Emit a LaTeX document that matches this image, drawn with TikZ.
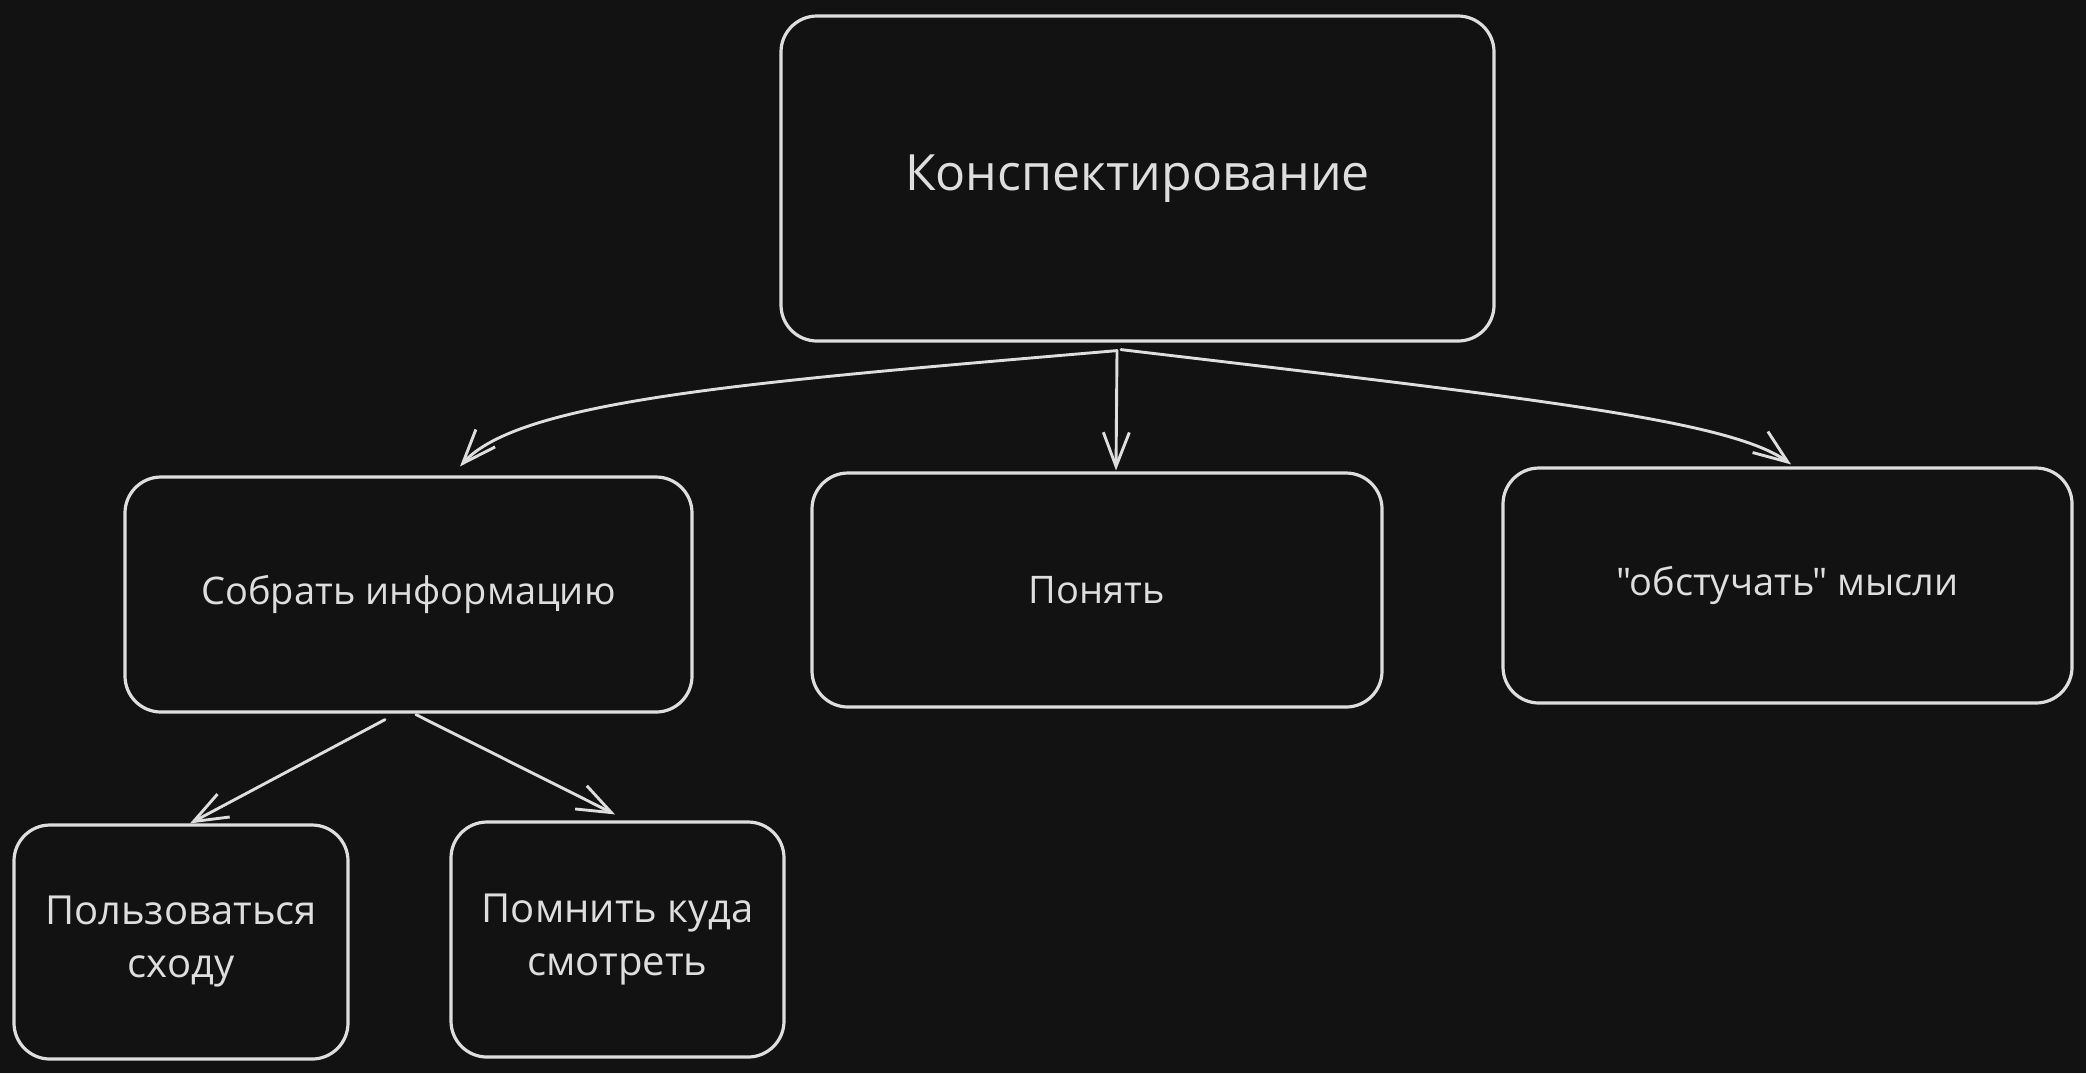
\documentclass[tikz,border=0pt]{standalone}
\usepackage{fontspec}
\setmainfont{Open Sans}[Ligatures=TeXOff]
\usetikzlibrary{arrows.meta}
\definecolor{bg}{HTML}{121212}
\definecolor{ink}{HTML}{DEDEDE}
\begin{document}
\begin{tikzpicture}[x=0.5pt,y=-0.5pt,
  box/.style={draw=ink, line width=1.6pt, rounded corners=18pt, inner sep=0pt,
    text=ink, align=center, font=\fontsize{19}{26.5}\selectfont},
  conn/.style={draw=ink, line width=1.45pt, line cap=round, line join=round,
    -{Straight Barb[length=17pt,width=13pt,line width=1.45pt]}}
]
\path[fill=bg, use as bounding box] (0,0) rectangle (2086,1073);

\node[box, minimum width=356.5pt, minimum height=162.5pt,
      font=\fontsize{25}{30}\selectfont] (A) at (1137.5,178.5) {Конспектирование};
\node[box, minimum width=283.5pt, minimum height=117.5pt] (B) at (408.5,594.5) {Собрать информацию};
\node[box, minimum width=285pt, minimum height=117pt] (C) at (1097,590) {Понять};
\node[box, minimum width=284.5pt, minimum height=117.5pt] (D) at (1787.5,585.5) {"обстучать" мысли};
\node[box, minimum width=167pt, minimum height=117pt,
      font=\fontsize{20}{26.5}\selectfont] (E) at (181,942) {Пользоваться\\сходу};
\node[box, minimum width=166.5pt, minimum height=117.5pt,
      font=\fontsize{20}{26.5}\selectfont] (F) at (617.5,939.5) {Помнить куда\\смотреть};

\coordinate (a0) at ([xshift=-10.25pt,yshift=-4pt]A.south);
\coordinate (a1) at ([xshift=-8.25pt,yshift=-3.5pt]A.south);

\draw[conn] (a0) .. controls (750,382) and (520,400) .. ([xshift=25.75pt,yshift=4.5pt]B.north);
\draw[conn] (a0) -- ([xshift=9.5pt,yshift=0.5pt]C.north);
\draw[conn] (a1) .. controls (1530,398) and (1730,420) .. ([xshift=1.75pt,yshift=1pt]D.north);
\draw[conn] ([xshift=-11.75pt,yshift=-3pt]B.south) -- ([xshift=4.5pt]E.north);
\draw[conn] ([xshift=3.75pt,yshift=-0.5pt]B.south) -- ([xshift=-1.25pt,yshift=3pt]F.north);
\end{tikzpicture}
\end{document}
